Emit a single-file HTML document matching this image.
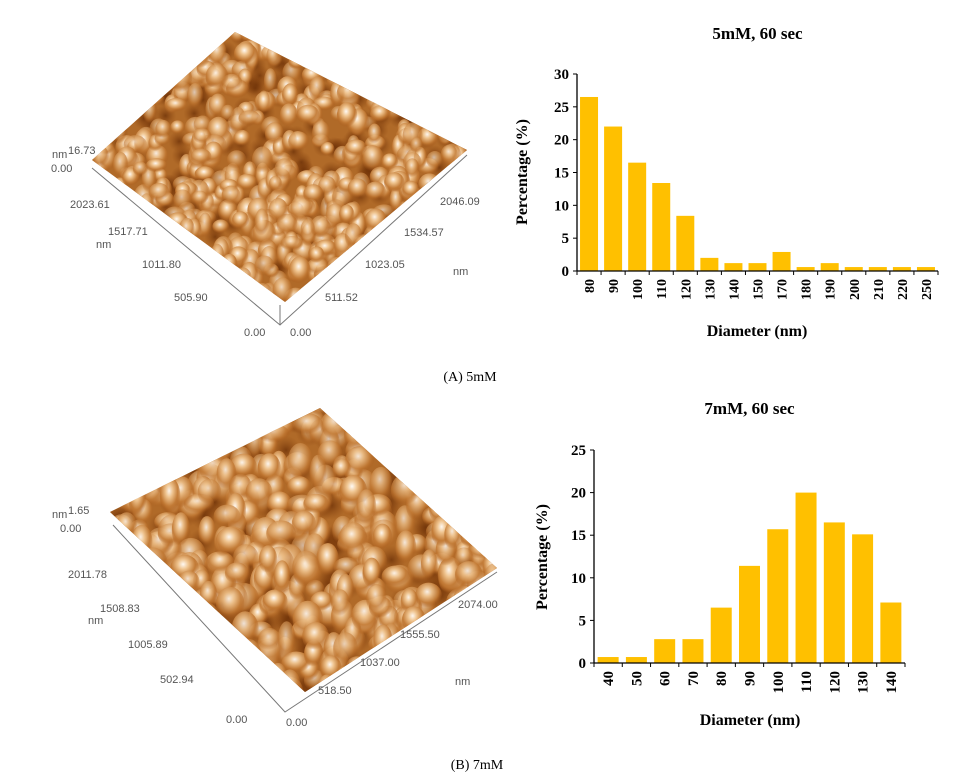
<!DOCTYPE html>
<html><head><meta charset="utf-8">
<style>
body{margin:0;background:#fff;width:967px;height:777px;overflow:hidden;position:relative;font-family:"Liberation Serif",serif}
svg{position:absolute;left:0;top:0}
.afm{font-family:"Liberation Sans",sans-serif;font-size:11px;fill:#555}
</style></head>
<body>
<svg id="fig" width="967" height="777" viewBox="0 0 967 777">
<defs>
<radialGradient id="blob" cx="0.45" cy="0.35" r="0.6">
<stop offset="0" stop-color="#fffaf4"/><stop offset="0.3" stop-color="#f0c590"/><stop offset="0.7" stop-color="#c27a35"/><stop offset="1" stop-color="#a85a1a" stop-opacity="0"/>
</radialGradient>
<radialGradient id="dark" cx="0.5" cy="0.5" r="0.5">
<stop offset="0" stop-color="#6e3208"/><stop offset="1" stop-color="#8a4510" stop-opacity="0"/>
</radialGradient>
<clipPath id="clipA"><polygon points="235,32 467,150 285,302 92,160"/></clipPath>
<clipPath id="clipB"><polygon points="320,408 497,568 305,692 110,512"/></clipPath>
</defs>
<g>
<polygon points="235,32 467,150 285,302 92,160" fill="#b06a28"/>
<g id="blobsA" clip-path="url(#clipA)"></g>
<polyline points="92,168 280,325 467,155" fill="none" stroke="#777" stroke-width="1"/>
<line x1="280" y1="325" x2="280" y2="305" stroke="#777"/>
<g class="afm">
<text x="52" y="158">nm</text>
<text x="68" y="154">16.73</text>
<text x="51" y="172">0.00</text>
<text x="70" y="208">2023.61</text>
<text x="108" y="235">1517.71</text>
<text x="96" y="248">nm</text>
<text x="142" y="268">1011.80</text>
<text x="174" y="301">505.90</text>
<text x="244" y="336">0.00</text>
<text x="290" y="336">0.00</text>
<text x="325" y="301">511.52</text>
<text x="365" y="268">1023.05</text>
<text x="404" y="236">1534.57</text>
<text x="440" y="205">2046.09</text>
<text x="453" y="275">nm</text>
</g>
</g>
<g>
<polygon points="320,408 497,568 305,692 110,512" fill="#b06a28"/>
<g id="blobsB" clip-path="url(#clipB)"></g>
<polyline points="113,525 285,712 497,572" fill="none" stroke="#777" stroke-width="1"/>
<g class="afm">
<text x="52" y="518">nm</text>
<text x="68" y="514">1.65</text>
<text x="60" y="532">0.00</text>
<text x="68" y="578">2011.78</text>
<text x="100" y="612">1508.83</text>
<text x="88" y="624">nm</text>
<text x="128" y="648">1005.89</text>
<text x="160" y="683">502.94</text>
<text x="226" y="723">0.00</text>
<text x="286" y="726">0.00</text>
<text x="318" y="694">518.50</text>
<text x="360" y="666">1037.00</text>
<text x="400" y="638">1555.50</text>
<text x="458" y="608">2074.00</text>
<text x="455" y="685">nm</text>
</g>
</g>
<text x="470" y="381" text-anchor="middle" font-size="14">(A) 5mM</text>
<text x="477" y="769" text-anchor="middle" font-size="14">(B) 7mM</text>
<g id="chartA"></g>
<g id="chartB"></g>
</svg>
<script>
// Chart A data
const catsA=["80","90","100","110","120","130","140","150","170","180","190","200","210","220","250"];
const valsA=[26.5,22,16.5,13.4,8.4,2,1.2,1.2,2.9,0.6,1.2,0.6,0.6,0.6,0.6];
const ticksA=[0,5,10,15,20,25,30];
// Chart B data
const catsB=["40","50","60","70","80","90","100","110","120","130","140"];
const valsB=[0.7,0.7,2.8,2.8,6.5,11.4,15.7,20,16.5,15.1,7.1];
const ticksB=[0,5,10,15,20,25];

const NS="http://www.w3.org/2000/svg";
function mk(tag,attrs,parent){const e=document.createElementNS(NS,tag);for(const k in attrs)e.setAttribute(k,attrs[k]);parent.appendChild(e);return e;}

// decorative AFM texture (deterministic pseudo-random)
let seed=7;function rnd(){seed=(seed*16807)%2147483647;return seed/2147483647;}
function blobs(id,x0,y0,x1,y1,n,r){const g=document.getElementById(id);
 for(let i=0;i<n*0.5;i++){mk('ellipse',{cx:x0+rnd()*(x1-x0),cy:y0+rnd()*(y1-y0),rx:r*1.2,ry:r*1.2,fill:'url(#dark)',opacity:0.8},g);}
 for(let i=0;i<n;i++){mk('ellipse',{cx:x0+rnd()*(x1-x0),cy:y0+rnd()*(y1-y0),rx:r*(0.7+rnd()*0.6),ry:r*(0.8+rnd()*0.8),fill:'url(#blob)',opacity:0.6+rnd()*0.4},g);}}
blobs('blobsA',90,30,470,305,700,9);
blobs('blobsB',108,405,500,695,520,12);

function chart(gid,cats,vals,ticks,x0,x1,y0,yTop,ymax,title,ty,barW,tickFont){
 const g=document.getElementById(gid);
 const ys=v=>y0-(v/ymax)*(y0-yTop);
 const slot=(x1-x0)/cats.length;
 const xs=i=>x0+slot*i;
 vals.forEach((v,i)=>{
  const b=mk('rect',{x:xs(i)+(slot-barW)/2,y:ys(v),width:barW,height:y0-ys(v),fill:'#ffc000'},g);
  
  
 });
 mk('line',{x1:x0,y1:y0,x2:x1,y2:y0,stroke:'#000','stroke-width':1.3},g);
 mk('line',{x1:x0,y1:y0,x2:x0,y2:yTop,stroke:'#000','stroke-width':1.3},g);
 ticks.forEach(t=>{
  mk('line',{x1:x0-4,y1:ys(t),x2:x0,y2:ys(t),stroke:'#000'},g);
  const tx=mk('text',{x:x0-8,y:ys(t)+5,'text-anchor':'end','font-size':15,'font-weight':'bold'},g);
  tx.textContent=t;
  
  
 });
 cats.forEach((c,i)=>{
  mk('line',{x1:xs(i),y1:y0,x2:xs(i),y2:y0+4,stroke:'#000'},g);
  const cx=xs(i)+slot/2+5, cy=y0+8;
  const tx=mk('text',{x:cx,y:cy,'text-anchor':'end','font-size':tickFont,'font-weight':'bold',transform:`rotate(-90 ${cx} ${cy})`},g);
  tx.textContent=c;
  
  
 });
 mk('line',{x1:x1,y1:y0,x2:x1,y2:y0+4,stroke:'#000'},g);
 const t=mk('text',{x:(x0+x1)/2,y:ty,'text-anchor':'middle','font-size':17,'font-weight':'bold'},g);
 t.textContent=title;
 return {g,slot};
}
const A=chart('chartA',catsA,valsA,ticksA,577,938,271,74,30,'5mM, 60 sec',39,18,14);
let xt=mk('text',{x:757,y:336,'text-anchor':'middle','font-size':16,'font-weight':'bold'},A.g);xt.textContent='Diameter (nm)';

let yt=mk('text',{x:527,y:172,'text-anchor':'middle','font-size':16,'font-weight':'bold',transform:'rotate(-90 527 172)'},A.g);yt.textContent='Percentage (%)';


const B=chart('chartB',catsB,valsB,ticksB,594,905,663,450,25,'7mM, 60 sec',414,21,15);
xt=mk('text',{x:750,y:725,'text-anchor':'middle','font-size':16,'font-weight':'bold'},B.g);xt.textContent='Diameter (nm)';

yt=mk('text',{x:547,y:557,'text-anchor':'middle','font-size':16,'font-weight':'bold',transform:'rotate(-90 547 557)'},B.g);yt.textContent='Percentage (%)';

</script>
</body></html>
